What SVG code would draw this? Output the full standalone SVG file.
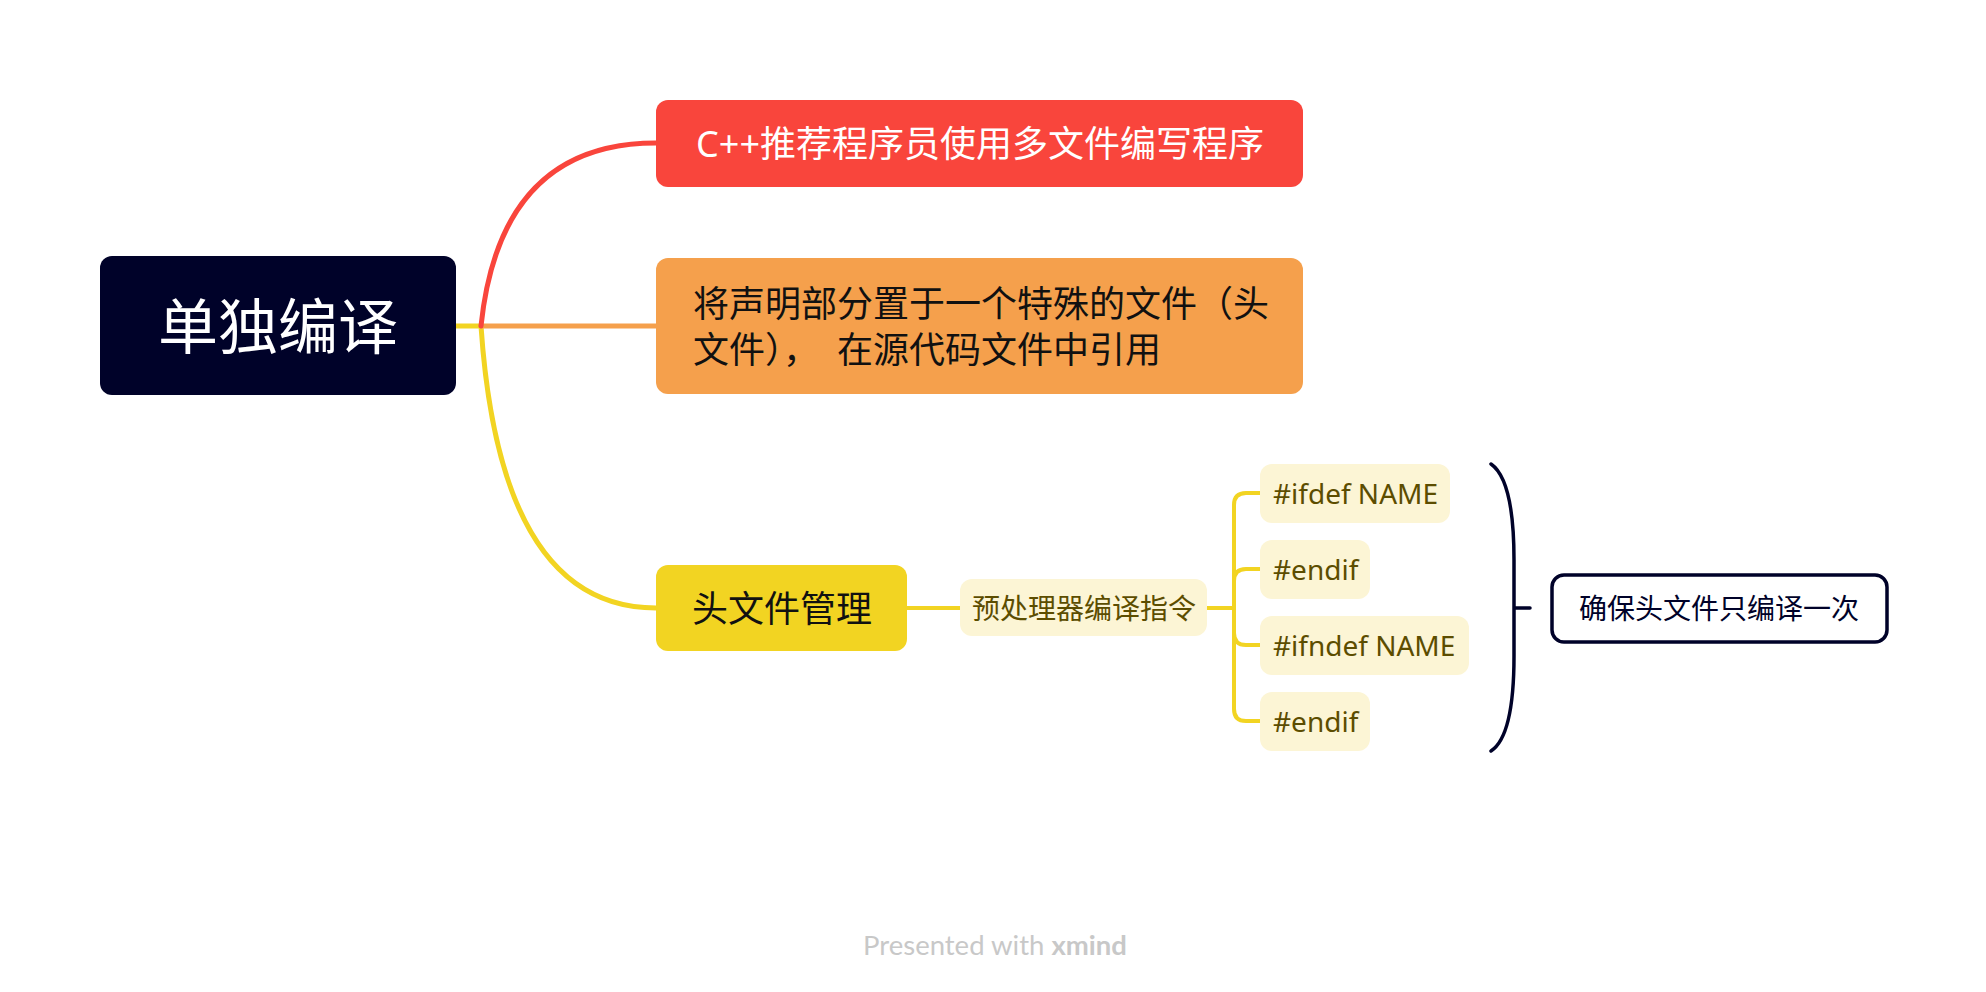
<svg xmlns="http://www.w3.org/2000/svg" width="1986" height="992" viewBox="0 0 1986 992">
<style>
.cjk{font-family:"Noto Sans","Noto Sans CJK SC",sans-serif}
.main{fill:none;stroke-width:5;stroke-linecap:round}
.sub{fill:none;stroke:#F2D422;stroke-width:4;stroke-linecap:round}
.leaf{fill:#FCF5D5}
.leaft{fill:#5C4D00;font-size:28px}
</style>
<rect width="1986" height="992" fill="#ffffff"/>
<g id="connectors">
<path class="main" stroke="#F2D422" d="M456 326 H481 Q500 608 656 608"/>
<path class="main" stroke="#F5A04C" d="M481 326 H656"/>
<path class="main" stroke="#F9453C" d="M481 326 Q500 143 656 143"/>
<path class="sub" d="M907 608 H960"/>
<path class="sub" d="M1207 608 H1234"/>
<path class="sub" d="M1234 608 V505 Q1234 493 1246 493 H1260"/>
<path class="sub" d="M1234 608 V581 Q1234 569 1246 569 H1260"/>
<path class="sub" d="M1234 608 V633 Q1234 645 1246 645 H1260"/>
<path class="sub" d="M1234 608 V709 Q1234 721 1246 721 H1260"/>
<path d="M1491 464 Q1514 480 1514 560 V656 Q1514 736 1491 751 M1514 608 H1530" fill="none" stroke="#000229" stroke-width="3.5" stroke-linecap="round"/>
</g>
<g id="root">
<rect x="100" y="256" width="356" height="139" rx="12" fill="#000229"/>
<text class="cjk" x="278" y="326" font-size="60" fill="#ffffff" text-anchor="middle" dominant-baseline="central">单独编译</text>
</g>
<g id="n1">
<rect x="656" y="100" width="647" height="87" rx="12" fill="#F9453C"/>
<text class="cjk" x="980" y="143" font-size="36" fill="#ffffff" text-anchor="middle" dominant-baseline="central">C++推荐程序员使用多文件编写程序</text>
</g>
<g id="n2">
<rect x="656" y="258" width="647" height="136" rx="12" fill="#F5A04C"/>
<text class="cjk" font-size="36" fill="#111111" dominant-baseline="central"><tspan x="693" y="303">将声明部分置于一个特殊的文件（头</tspan><tspan x="693" y="349">文件），</tspan><tspan x="837" y="349">在源代码文件中引用</tspan></text>
</g>
<g id="n3">
<rect x="656" y="565" width="251" height="86" rx="12" fill="#F2D422"/>
<text class="cjk" x="782" y="608" font-size="36" fill="#111111" text-anchor="middle" dominant-baseline="central">头文件管理</text>
</g>
<g id="n4">
<rect class="leaf" x="960" y="579" width="247" height="57" rx="12"/>
<text class="cjk leaft" x="1084" y="608" text-anchor="middle" dominant-baseline="central">预处理器编译指令</text>
</g>
<g id="c1">
<rect class="leaf" x="1260" y="464" width="190" height="59" rx="12"/>
<text class="cjk leaft" x="1273" y="493" dominant-baseline="central">#ifdef NAME</text>
</g>
<g id="c2">
<rect class="leaf" x="1260" y="540" width="110" height="59" rx="12"/>
<text class="cjk leaft" x="1273" y="569" dominant-baseline="central">#endif</text>
</g>
<g id="c3">
<rect class="leaf" x="1260" y="616" width="209" height="59" rx="12"/>
<text class="cjk leaft" x="1273" y="645" dominant-baseline="central">#ifndef NAME</text>
</g>
<g id="c4">
<rect class="leaf" x="1260" y="692" width="110" height="59" rx="12"/>
<text class="cjk leaft" x="1273" y="721" dominant-baseline="central">#endif</text>
</g>
<g id="summary">
<rect x="1552" y="575" width="335" height="67" rx="12" fill="#ffffff" stroke="#000229" stroke-width="3.5"/>
<text class="cjk" x="1719" y="608" font-size="28" fill="#000229" text-anchor="middle" dominant-baseline="central">确保头文件只编译一次</text>
</g>
<g id="footer">
<text x="995" y="944" font-family="Lato, 'Noto Sans', sans-serif" font-size="27.5" fill="#C8C8C8" text-anchor="middle" dominant-baseline="central">Presented with <tspan font-weight="bold">xmind</tspan></text>
</g>
</svg>
